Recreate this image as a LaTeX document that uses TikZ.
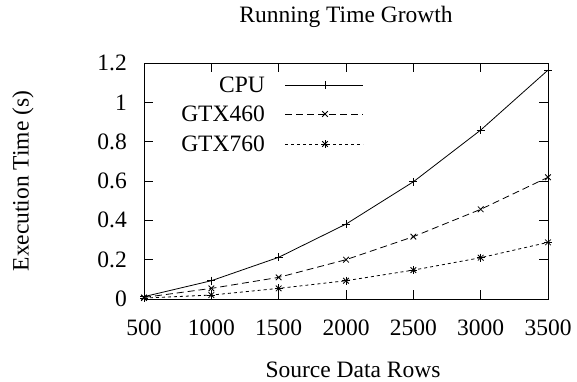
\documentclass[tikz,border=0pt]{standalone}
\usepackage{fontspec}
\setmainfont{Liberation Serif}
\usetikzlibrary{plotmarks}
\tikzset{
  lbl/.style={font=\fontsize{23.5}{28}\selectfont, inner sep=0pt},
  frame/.style={line width=0.9pt},
  tickl/.style={line width=0.9pt},
  cpu/.style={line width=0.8pt, mark=+, mark size=4pt, mark options={solid, line width=0.8pt}},
  g4/.style={line width=0.8pt, dash pattern=on 7pt off 4pt, mark=x, mark size=4pt, mark options={solid, line width=0.8pt}},
  g7/.style={line width=0.8pt, dash pattern=on 3pt off 3pt},
  g7m/.style={only marks, mark size=4pt, mark options={solid, line width=0.8pt}},
}
\begin{document}
\begin{tikzpicture}[x=1pt,y=-1pt]
\useasboundingbox (0,0) rectangle (577,381);
% frame
\draw[frame] (144,63) rectangle (548,299);
% ticks
\foreach \i in {0,...,6} {
  \pgfmathsetmacro{\xx}{144+\i*67.333}
  \draw[tickl] (\xx,299) -- (\xx,290);
  \draw[tickl] (\xx,63) -- (\xx,72);
  \pgfmathsetmacro{\yy}{299-\i*39.333}
  \draw[tickl] (144,\yy) -- (153,\yy);
  \draw[tickl] (548,\yy) -- (539,\yy);
}
% tick labels
\foreach \v [count=\i from 0] in {500,1000,1500,2000,2500,3000,3500} {
  \pgfmathsetmacro{\xx}{144+\i*67.333}
  \node[lbl] (xt\i) at (\xx,328) {\v};
}
\foreach \v [count=\i from 0] in {0,0.2,0.4,0.6,0.8,1,1.2} {
  \pgfmathsetmacro{\yy}{299-\i*39.333}
  \node[lbl, anchor=east] (yt\i) at (127,\yy) {\v};
}
% titles
\node[lbl] (title) at (346,17) {Running Time Growth};
\node[lbl, text depth=0pt, anchor=base] (xlab) at (353,377) {Source Data Rows};
\node[lbl, rotate=90] (ylab) at (23,181) {Execution Time (s)};
% data
\begin{scope}[shift={(144,299)}, x=0.134667pt, y=196.67pt]
\draw[cpu] plot coordinates {(0,0.012) (500,0.093) (1000,0.212) (1500,0.381) (2000,0.596) (2500,0.859) (3000,1.164)};
\draw[g4] plot coordinates {(0,0.008) (500,0.054) (1000,0.11) (1500,0.2) (2000,0.317) (2500,0.456) (3000,0.619)};
\draw[g7] plot coordinates {(0,0.005) (500,0.02) (1000,0.054) (1500,0.093) (2000,0.147) (2500,0.21) (3000,0.288)};
\draw[g7m, mark=+] plot coordinates {(0,0.005) (500,0.02) (1000,0.054) (1500,0.093) (2000,0.147) (2500,0.21) (3000,0.288)};
\draw[g7m, mark=x] plot coordinates {(0,0.005) (500,0.02) (1000,0.054) (1500,0.093) (2000,0.147) (2500,0.21) (3000,0.288)};
\end{scope}
% legend
\node[lbl, anchor=east] (l1) at (265,85) {CPU};
\node[lbl, anchor=east] (l2) at (265,114) {GTX460};
\node[lbl, anchor=east] (l3) at (265,144) {GTX760};
\coordinate (s1a) at (285,85); \coordinate (s1b) at (363,85);
\coordinate (s2a) at (285,114); \coordinate (s2b) at (363,114);
\coordinate (s3a) at (285,144); \coordinate (s3b) at (363,144);
\draw[cpu, mark=none] (s1a) -- (s1b);
\draw[g7m, mark=+] plot coordinates {(325,85)};
\draw[g4, mark=none] (s2a) -- (s2b);
\draw[g7m, mark=x] plot coordinates {(325,114)};
\draw[g7] (s3a) -- (s3b);
\draw[g7m, mark=+] plot coordinates {(325,144)};
\draw[g7m, mark=x] plot coordinates {(325,144)};
\end{tikzpicture}
\end{document}
